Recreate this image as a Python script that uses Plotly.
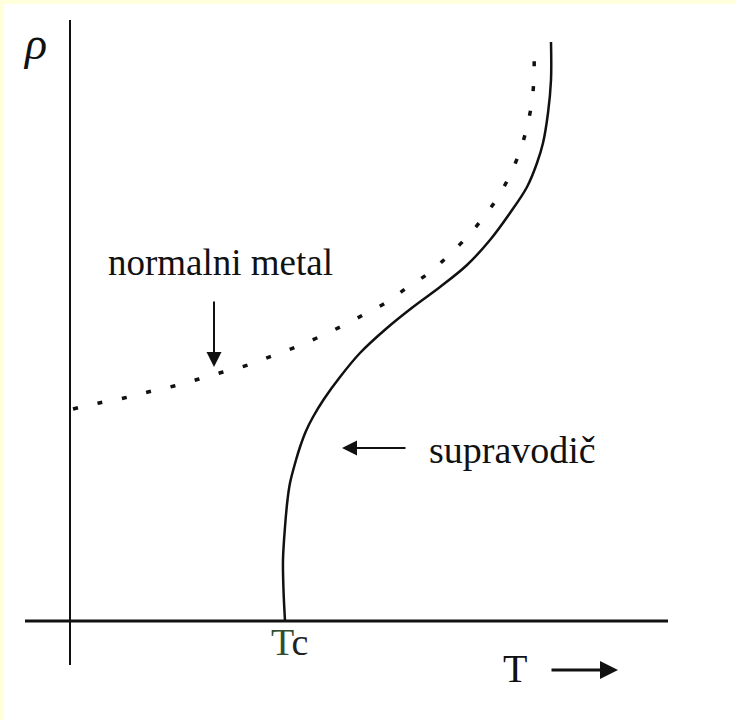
import plotly.graph_objects as go

# Superconductor curve (T, rho)
sc_T = [215, 213.5, 213, 215, 217.5, 220, 226, 230, 236, 243, 254, 270, 290, 317, 343, 370, 397, 420, 440, 457, 467, 473, 478, 481, 481]
sc_rho = [0, 31, 61, 94, 121, 138, 161, 174, 190, 204, 222, 244, 268, 293, 314, 334, 356, 381, 408, 434, 458, 478, 508, 541, 579]

# Normal metal curve (T, rho)
nm_T = [3, 29, 54, 78, 104, 129, 153, 178, 202, 226, 249, 272, 295, 317, 338, 359, 378, 397, 413, 428, 440, 450, 457, 462, 464, 464]
nm_rho = [212, 218, 223, 229, 235, 242, 249, 256, 265, 274, 284, 295, 307, 319, 334, 348, 365, 384, 403, 424, 446, 470, 494, 520, 545, 576]

FONT = "Liberation Serif, Times New Roman, serif"

fig = go.Figure()
fig.add_trace(go.Scatter(x=nm_T, y=nm_rho, mode="lines",
                         line=dict(color="#111111", width=3.5, dash="5px,20px", shape="spline"),
                         hoverinfo="skip"))
fig.add_trace(go.Scatter(x=sc_T, y=sc_rho, mode="lines",
                         line=dict(color="#111111", width=2.5, shape="spline", smoothing=1.0),
                         hoverinfo="skip"))

# axes lines
fig.add_shape(type="line", x0=-45, y0=0, x1=598, y1=0, line=dict(color="#111111", width=3))
fig.add_shape(type="line", x0=0, y0=-44, x1=0, y1=601, line=dict(color="#111111", width=2))

ann = []
ann.append(dict(x=-35, y=577, text="<i>ρ</i>", showarrow=False, font=dict(family=FONT, size=46, color="#111111")))
ann.append(dict(x=150, y=359, text="normalni metal", showarrow=False, font=dict(family=FONT, size=37, color="#111111")))
ann.append(dict(x=357, y=171, text="supravodič", xanchor="left", showarrow=False, font=dict(family=FONT, size=38, color="#111111")))
ann.append(dict(x=219, y=-21, text="<span style='color:#2f4f2f'>T</span>c", showarrow=False, font=dict(family=FONT, size=38, color="#222222")))
ann.append(dict(x=445, y=-47, text="T", showarrow=False, font=dict(family=FONT, size=40, color="#111111")))
# arrows
ann.append(dict(x=144, y=254, ax=144, ay=321, axref="x", ayref="y", text="", showarrow=True,
                arrowhead=2, arrowsize=1.5, arrowwidth=2, arrowcolor="#111111"))
ann.append(dict(x=272, y=173, ax=337, ay=173, axref="x", ayref="y", text="", showarrow=True,
                arrowhead=2, arrowsize=1.5, arrowwidth=2, arrowcolor="#111111"))
ann.append(dict(x=548, y=-49, ax=480, ay=-49, axref="x", ayref="y", text="", showarrow=True,
                arrowhead=2, arrowsize=1.2, arrowwidth=3, arrowcolor="#111111"))

fig.update_layout(
    width=736, height=720,
    margin=dict(l=0, r=0, t=0, b=0),
    paper_bgcolor="#FFFFDC",
    plot_bgcolor="#FFFFFF",
    showlegend=False,
    annotations=ann,
    xaxis=dict(domain=[4/736, 1], range=[-66, 666], visible=False, fixedrange=True),
    yaxis=dict(domain=[0, 716/720], range=[-99, 617], visible=False, fixedrange=True),
)
fig.write_html("out.html", config={"displayModeBar": False},
               post_script="document.body.style.margin='0px';document.body.style.overflow='hidden';")
